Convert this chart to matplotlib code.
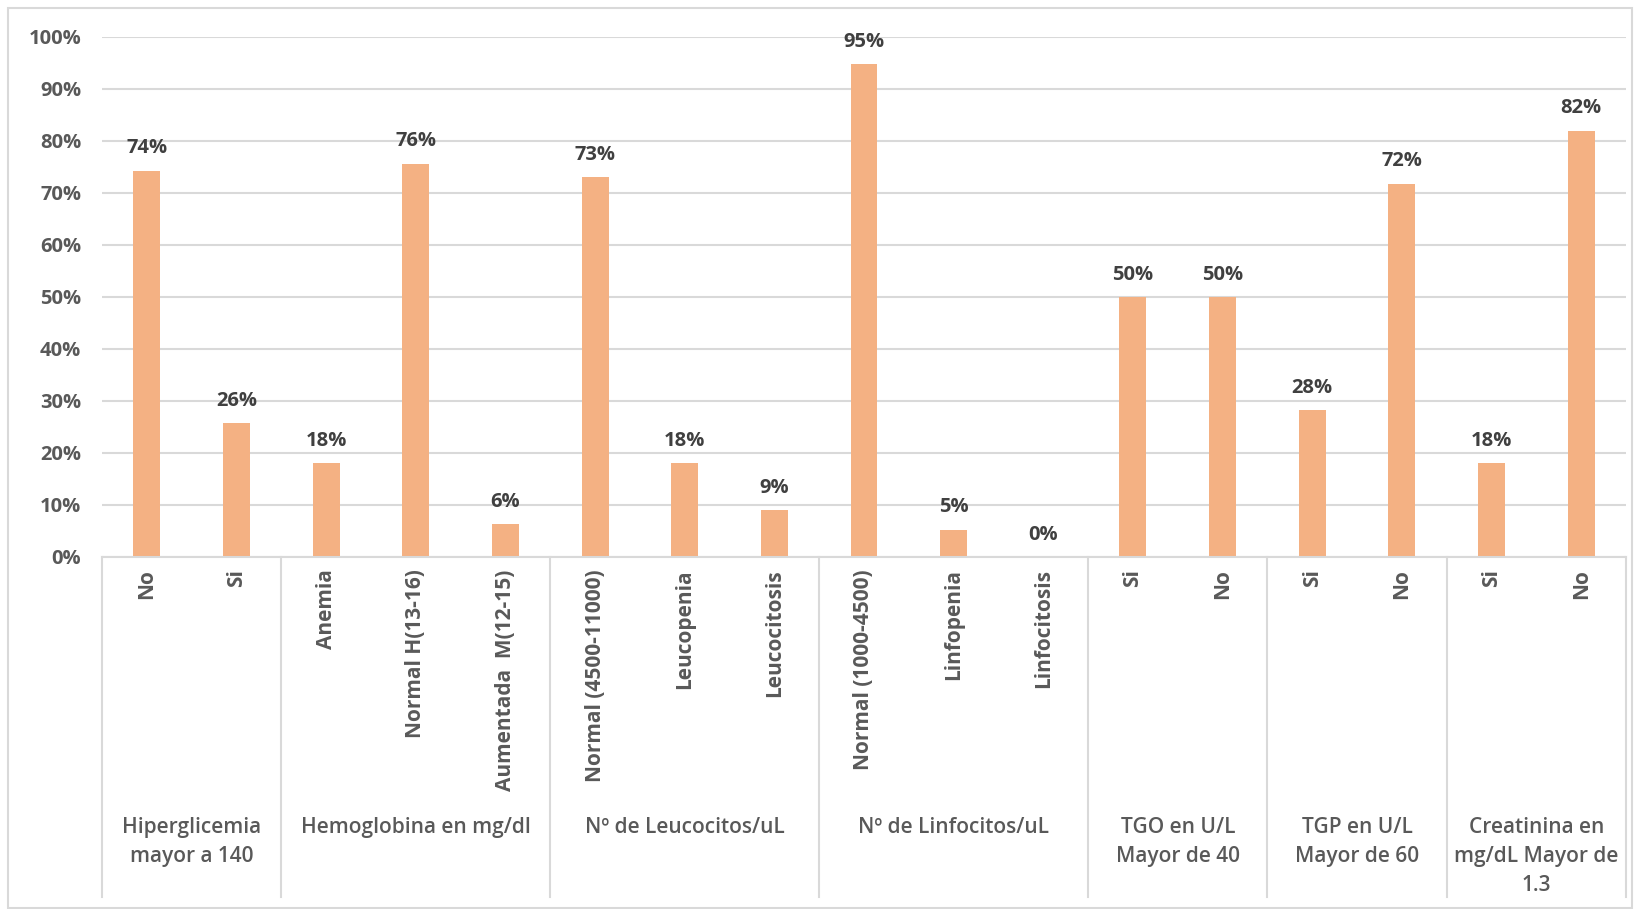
import matplotlib.pyplot as plt
import matplotlib.transforms as mtransforms
from matplotlib.patches import Rectangle
from matplotlib.ticker import PercentFormatter
import numpy as np

plt.rcParams['font.family'] = ['Open Sans', 'DejaVu Sans']

categories = ['No', 'Si',
              'Anemia', 'Normal H(13-16)', 'Aumentada  M(12-15)',
              'Normal (4500-11000)', 'Leucopenia', 'Leucocitosis',
              'Normal (1000-4500)', 'Linfopenia', 'Linfocitosis',
              'Si', 'No',
              'Si', 'No',
              'Si', 'No']
values = [74.3, 25.7, 18.0, 75.6, 6.3, 73.0, 18.0, 9.0, 94.8, 5.2, 0.0,
          50.0, 50.0, 28.2, 71.8, 18.0, 82.0]
groups = ['Hiperglicemia\nmayor a 140', 'Hemoglobina en mg/dl',
          'Nº de Leucocitos/uL', 'Nº de Linfocitos/uL',
          'TGO en U/L\nMayor de 40', 'TGP en U/L\nMayor de 60',
          'Creatinina en\nmg/dL Mayor de\n1.3']
group_sizes = [2, 3, 3, 3, 2, 2, 2]

bar_color = '#F4B183'
grid_color = '#D9D9D9'
text_color = '#595959'
label_color = '#404040'

W, H = 1640, 909
fig = plt.figure(figsize=(W / 100, H / 100), dpi=100)
ax = fig.add_axes([102 / W, 1 - 557 / H, (1626 - 102) / W, (557 - 37) / H])

x = np.arange(len(categories))
frac = np.array(values) / 100
ax.bar(x, frac, width=0.3, color=bar_color, zorder=2)
ax.set_xlim(-0.5, len(categories) - 0.5)
ax.set_ylim(0, 1)

for xi, v in zip(x, values):
    ax.annotate(f'{v:.0f}%', (xi, v / 100), xytext=(0, 9), textcoords='offset points',
                ha='center', va='bottom', fontsize=14.5, fontweight='bold', color=label_color)

ax.set_yticks(np.linspace(0, 1, 11))
ax.yaxis.set_major_formatter(PercentFormatter(1.0, decimals=0))
ax.grid(axis='y', color=grid_color, linewidth=1.5, zorder=0)
for s in ['top', 'right', 'left']:
    ax.spines[s].set_visible(False)
ax.spines['bottom'].set_color(grid_color)
ax.spines['bottom'].set_linewidth(1.5)
ax.tick_params(axis='y', length=0, pad=15, labelsize=14.5, labelcolor=text_color)
for t in ax.get_yticklabels():
    t.set_fontweight('bold')

ax.set_xticks(x)
ax.set_xticklabels(categories, rotation=90, va='top', ha='center',
                   fontsize=15, color=text_color, fontweight='bold')
ax.tick_params(axis='x', length=0, pad=9)

# group separators and group labels
trans = mtransforms.blended_transform_factory(ax.transData, fig.transFigure)
bounds = np.concatenate([[0], np.cumsum(group_sizes)]) - 0.5
y_top = 1 - 557 / H
y_bot = 1 - 897 / H
for b in bounds:
    ax.plot([b, b], [y_top, y_bot], transform=trans, color=grid_color,
            linewidth=1.5, clip_on=False)
for i, g in enumerate(groups):
    mid = (bounds[i] + bounds[i + 1]) / 2
    ax.text(mid, 1 - 817 / H, g, transform=trans, ha='center', va='top',
            fontsize=15, color=text_color, fontweight='semibold', linespacing=1.5)

fig.patches.append(Rectangle((8 / W, 1 / H), (W - 16) / W, (H - 9) / H,
                             transform=fig.transFigure, fill=False,
                             edgecolor=grid_color, linewidth=1.5))

fig.savefig('out.png', dpi=100)
